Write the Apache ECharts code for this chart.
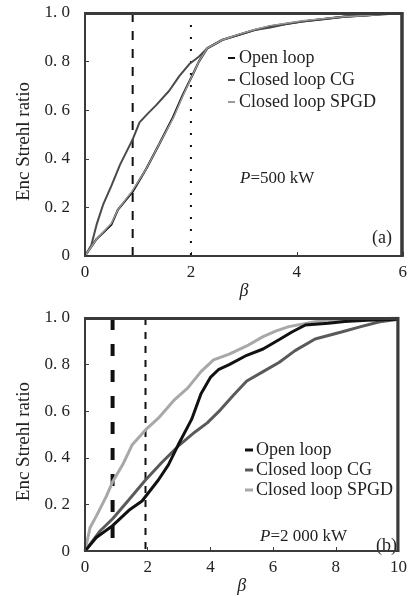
<!DOCTYPE html>
<html><head><meta charset="utf-8">
<script src="https://cdn.jsdelivr.net/npm/echarts@6/dist/echarts.min.js"></script>
<style>html,body{margin:0;padding:0;background:#fff}#c{width:410px;height:596px}</style>
</head><body><div id="c"></div>
<script>
// ---- Panel (a): P = 500 kW ----
const aCGx   = [0, 0.12, 0.22, 0.34, 0.5, 0.66, 0.9, 1.03, 1.18, 1.34, 1.59, 1.78, 1.97, 2.15, 2.31, 2.6, 2.9, 3.2, 3.5, 3.8, 4.1, 4.5, 4.9, 5.3, 5.6, 6.0];
const aCGy   = [0, 0.045, 0.13, 0.21, 0.29, 0.375, 0.48, 0.55, 0.585, 0.62, 0.68, 0.74, 0.79, 0.82, 0.855, 0.89, 0.91, 0.93, 0.94, 0.955, 0.965, 0.975, 0.985, 0.99, 0.995, 0.998];
const aOLx   = [0, 0.22, 0.5, 0.62, 0.9, 1.16, 1.4, 1.66, 1.84, 2.03, 2.15, 2.31, 2.6, 2.9, 3.2, 3.5, 3.8, 4.1, 4.5, 4.9, 5.3, 5.6, 6.0];
const aOLy   = [0, 0.07, 0.13, 0.19, 0.265, 0.36, 0.46, 0.57, 0.66, 0.745, 0.8, 0.855, 0.89, 0.91, 0.93, 0.945, 0.955, 0.965, 0.975, 0.985, 0.99, 0.995, 0.998];
const aSPx   = [0, 0.22, 0.5, 0.62, 0.9, 1.16, 1.4, 1.66, 1.84, 2.03, 2.15, 2.31, 2.6, 2.9, 3.2, 3.5, 3.8, 4.1, 4.5, 4.9, 5.3, 5.6, 6.0];
const aSPy   = [0, 0.07, 0.135, 0.19, 0.27, 0.36, 0.46, 0.565, 0.655, 0.745, 0.8, 0.855, 0.89, 0.912, 0.932, 0.948, 0.958, 0.968, 0.977, 0.985, 0.99, 0.995, 0.998];
const aRef   = [0.9, 2.0];
// ---- Panel (b): P = 2 000 kW ----
const bOLx   = [0, 0.36, 0.89, 1.4, 1.82, 2.34, 2.66, 2.97, 3.4, 3.7, 4.0, 4.27, 4.6, 5.16, 5.68, 6.2, 6.6, 7.03, 7.76, 8.28, 9.0, 10];
const bOLy   = [0, 0.058, 0.11, 0.175, 0.215, 0.305, 0.37, 0.455, 0.565, 0.675, 0.745, 0.78, 0.8, 0.84, 0.867, 0.908, 0.94, 0.97, 0.977, 0.985, 0.99, 0.995];
const bCGx   = [0, 0.47, 0.89, 1.4, 1.93, 2.45, 2.97, 3.5, 3.9, 4.32, 4.74, 5.16, 5.68, 6.2, 6.7, 7.34, 8.18, 8.8, 9.4, 10];
const bCGy   = [0, 0.085, 0.14, 0.22, 0.305, 0.38, 0.45, 0.51, 0.55, 0.606, 0.67, 0.73, 0.77, 0.81, 0.86, 0.91, 0.94, 0.963, 0.984, 0.995];
const bSPx   = [0, 0.16, 0.36, 0.68, 0.89, 1.2, 1.5, 1.93, 2.34, 2.86, 3.28, 3.7, 4.1, 4.6, 5.16, 5.68, 6.1, 6.5, 7.0, 7.34, 8.0, 9.0, 10];
const bSPy   = [0, 0.1, 0.15, 0.235, 0.3, 0.37, 0.455, 0.52, 0.57, 0.65, 0.70, 0.77, 0.82, 0.845, 0.88, 0.92, 0.945, 0.963, 0.975, 0.984, 0.99, 0.995, 1.0];
const bRef   = [0.88, 1.93];
const seriesNames = ['Open loop', 'Closed loop CG', 'Closed loop SPGD'];
const xMaxA = 6, xMaxB = 10;

const zip = (xs, ys) => xs.map((x, i) => [x, ys[i]]);
const FONT = '"Liberation Serif","DejaVu Serif",serif';
const AX = '#3a3a3a';

function xAx(grid, max, interval) {
  return {
    type: 'value', gridIndex: grid, min: 0, max: max, interval: interval,
    name: 'β', nameLocation: 'middle', nameGap: 21,
    nameTextStyle: {fontFamily: FONT, fontStyle: 'italic', fontSize: 18, color: '#222'},
    axisLine: {show: true, onZero: false, lineStyle: {color: AX, width: 1.5}},
    axisTick: {show: true, inside: true, length: 4, lineStyle: {color: AX}},
    axisLabel: {fontFamily: FONT, fontSize: 17, color: '#222', margin: 8},
    splitLine: {show: false}
  };
}
function yAx(grid) {
  return {
    type: 'value', gridIndex: grid, min: 0, max: 1, interval: 0.2,
    name: 'Enc Strehl ratio', nameLocation: 'middle', nameGap: 50,
    nameTextStyle: {fontFamily: FONT, fontSize: 19, color: '#222', padding: [0, 0, 0, -14]},
    axisLine: {show: true, onZero: false, lineStyle: {color: AX, width: 1.5}},
    axisTick: {show: true, inside: true, length: 4, lineStyle: {color: AX}},
    axisLabel: {fontFamily: FONT, fontSize: 17, color: '#222', margin: 15,
      formatter: v => v === 0 ? '0' : v.toFixed(1).replace('.', '. ')},
    splitLine: {show: false}
  };
}
function line(name, xi, yi, data, color, width, z) {
  return {name: name, type: 'line', xAxisIndex: xi, yAxisIndex: yi, data: data,
    showSymbol: false, symbol: 'none', smooth: false, z: z || 2,
    lineStyle: {color: color, width: width}, itemStyle: {color: color}};
}
function vref(xi, yi, x, color, width, dash) {
  return {type: 'line', xAxisIndex: xi, yAxisIndex: yi, data: [[x, 1], [x, 0]],
    showSymbol: false, symbol: 'none', silent: true, z: 1,
    lineStyle: {color: color, width: width, type: dash}};
}
// top edge and right edge of each plot box, placed with the axis scales
function edge(xi, yi, pts) {
  return {type: 'line', xAxisIndex: xi, yAxisIndex: yi, data: pts,
    showSymbol: false, symbol: 'none', silent: true, z: 10, clip: false,
    lineStyle: {color: AX, width: 2.5}};
}

const chart = echarts.init(document.getElementById('c'), null, {renderer: 'canvas'});
chart.setOption({
  animation: false,
  backgroundColor: '#fff',
  grid: [
    {left: 85, top: 13, width: 320, height: 243, show: true, borderColor: AX, borderWidth: 2, backgroundColor: 'rgba(0,0,0,0)', z: 10},
    {left: 85, top: 318, width: 320, height: 243, show: true, borderColor: AX, borderWidth: 2, backgroundColor: 'rgba(0,0,0,0)', z: 10}
  ],
  xAxis: [xAx(0, xMaxA, 2), xAx(1, xMaxB, 2)],
  yAxis: [yAx(0), yAx(1)],
  legend: [
    {left: 223, top: 44, orient: 'vertical', itemGap: 4, itemWidth: 7, itemHeight: 2, icon: 'rect',
     data: seriesNames.map(n => ({name: n})),
     textStyle: {fontFamily: FONT, fontSize: 18, color: '#222', padding: [0, 0, 0, -1]}, selectedMode: false},
    {left: 240, top: 436, orient: 'vertical', itemGap: 2, itemWidth: 8, itemHeight: 3, icon: 'rect',
     data: seriesNames.map(n => ({name: n + ' '})),
     textStyle: {fontFamily: FONT, fontSize: 18, color: '#222', padding: [0, 0, 0, -2]}, selectedMode: false}
  ],
  series: [
    line(seriesNames[0], 0, 0, zip(aOLx, aOLy), '#111', 2.2, 3),
    line(seriesNames[1], 0, 0, zip(aCGx, aCGy), '#4a4a4a', 2, 3),
    line(seriesNames[2], 0, 0, zip(aSPx, aSPy), '#9a9a9a', 1.4, 4),
    vref(0, 0, aRef[0], '#111', 2, [9, 9]),
    vref(0, 0, aRef[1], '#111', 2, [2, 10]),
    edge(0, 0, [[0, 0.997], [xMaxA, 0.997]]),
    edge(0, 0, [[xMaxA * 0.996, 1], [xMaxA * 0.996, 0]]),
    line(seriesNames[0] + ' ', 1, 1, zip(bOLx, bOLy), '#111', 3, 4),
    line(seriesNames[1] + ' ', 1, 1, zip(bCGx, bCGy), '#5a5a5a', 3, 3),
    line(seriesNames[2] + ' ', 1, 1, zip(bSPx, bSPy), '#a8a8a8', 3, 3),
    vref(1, 1, bRef[0], '#111', 4, [12, 14]),
    vref(1, 1, bRef[1], '#111', 2, [7, 7]),
    edge(1, 1, [[0, 0.997], [xMaxB, 0.997]]),
    edge(1, 1, [[xMaxB * 0.997, 1], [xMaxB * 0.997, 0]])
  ],
  graphic: [
    {type: 'text', left: 240, top: 170, style: {text: '{i|P}=500 kW', fontFamily: FONT, fontSize: 17, fill: '#222',
      rich: {i: {fontStyle: 'italic', fontFamily: FONT, fontSize: 17, fill: '#222'}}}},
    {type: 'text', left: 372, top: 229, style: {text: '(a)', fontFamily: FONT, fontSize: 18, fill: '#222'}},
    {type: 'text', left: 260, top: 528, style: {text: '{i|P}=2 000 kW', fontFamily: FONT, fontSize: 17, fill: '#222',
      rich: {i: {fontStyle: 'italic', fontFamily: FONT, fontSize: 17, fill: '#222'}}}},
    {type: 'text', left: 376, top: 537, style: {text: '(b)', fontFamily: FONT, fontSize: 18, fill: '#222'}}
  ]
});
</script></body></html>
